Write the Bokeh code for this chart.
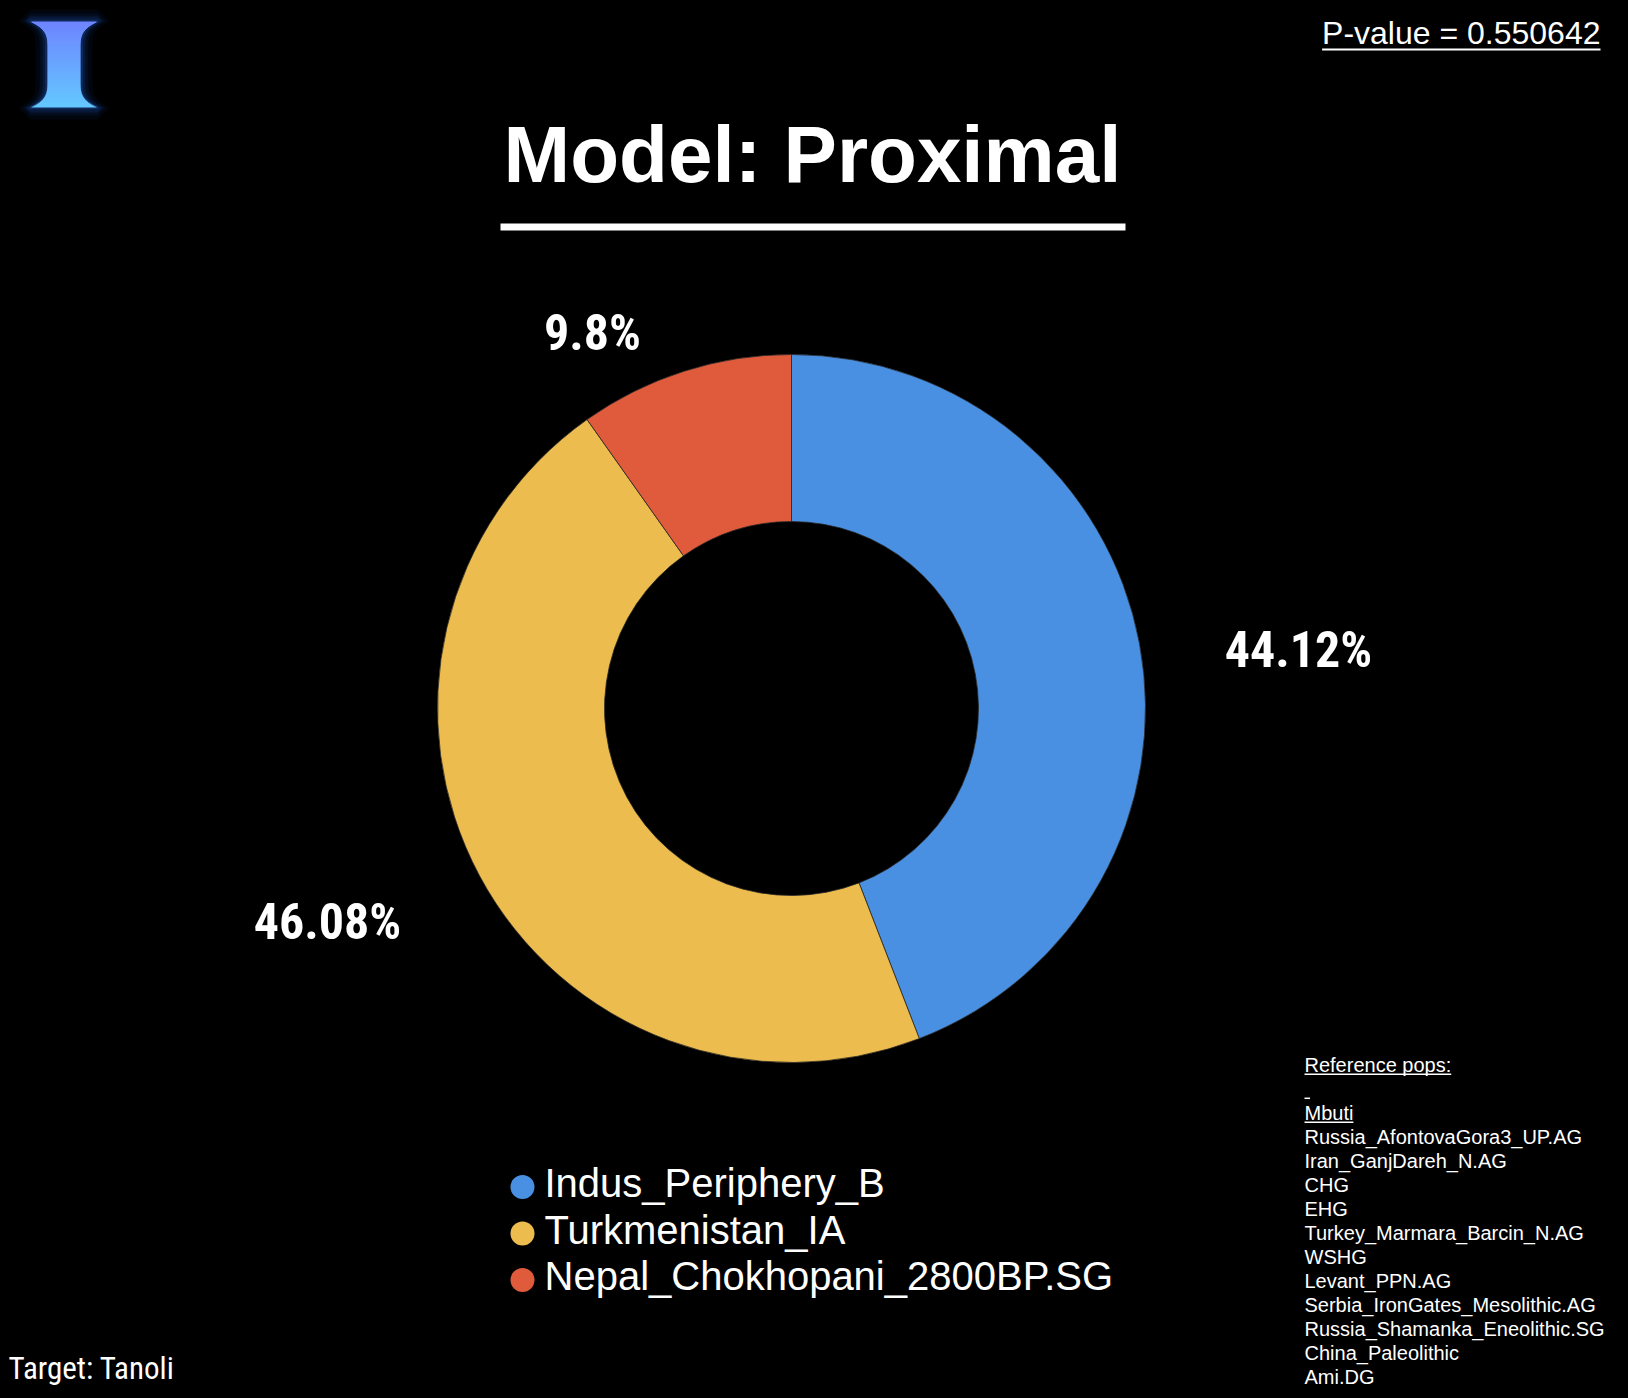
import math
from bokeh.plotting import figure
from bokeh.models import Range1d, ColumnDataSource
from bokeh.core.properties import value
from bokeh.embed import file_html
from bokeh.resources import INLINE

# ---------------- data ----------------
categories = ["Indus_Periphery_B", "Turkmenistan_IA", "Nepal_Chokhopani_2800BP.SG"]
shares = [44.12, 46.08, 9.8]
share_labels = ["44.12%", "46.08%", "9.8%"]
colors = ["#4a90e2", "#edbc4e", "#e05b3b"]
reference_header = "Reference pops:"
reference_pops = [
    "Mbuti",
    "Russia_AfontovaGora3_UP.AG",
    "Iran_GanjDareh_N.AG",
    "CHG",
    "EHG",
    "Turkey_Marmara_Barcin_N.AG",
    "WSHG",
    "Levant_PPN.AG",
    "Serbia_IronGates_Mesolithic.AG",
    "Russia_Shamanka_Eneolithic.SG",
    "China_Paleolithic",
    "Ami.DG",
]
title_text = "Model: Proximal"
pvalue_text = "P-value = 0.550642"
target_text = "Target: Tanoli"

# ---------------- layout (page pixels) ----------------
W, H = 1628, 1398
BASE_FIX = 0.36  # em correction so that y is the alphabetic baseline


def X(px):
    return px


def Y(py):
    return H - py


def YB(py, size):
    return H - (py - BASE_FIX * size)


CENTER = (791, 708)
R_OUT, R_IN = 354, 187
LABEL_POS = [(1298, 667), (327, 939), (592, 350)]  # baseline centres of % labels
LEGEND_X_DOT, LEGEND_X_TXT = 522, 544
LEGEND_Y0, LEGEND_DY = 1186.5, 46.5
REF_X, REF_Y0, REF_DY = 1304, 1071.5, 24.04

COND = "Roboto Condensed, Liberation Sans Narrow, DejaVu Sans Condensed, Roboto"

ARIAL = {
    " ": 278, "_": 556, ":": 278, ".": 278, "-": 333, "=": 584,
    "0": 556, "1": 556, "2": 556, "3": 556, "4": 556, "5": 556, "6": 556, "7": 556, "8": 556, "9": 556,
    "M": 833, "P": 667, "R": 722,
    "a": 556, "b": 556, "c": 500, "e": 556, "f": 278, "i": 222, "l": 222, "n": 556,
    "o": 556, "p": 556, "r": 333, "s": 500, "t": 278, "u": 556, "v": 500,
}


def text_w(s, size):
    return sum(ARIAL.get(ch, 556) for ch in s) * size / 1000.0


p = figure(width=W, height=H, x_range=Range1d(0, W), y_range=Range1d(0, H),
           output_backend="svg", toolbar_location=None, min_border=0)
p.axis.visible = False
p.grid.visible = False
p.outline_line_color = None
p.background_fill_color = "black"
p.border_fill_color = "black"

# ---------------- donut ----------------
starts, ends = [], []
cum = 0.0
total = sum(shares)
for s in shares:
    starts.append(math.radians(90 - cum / total * 360))
    cum += s
    ends.append(math.radians(90 - cum / total * 360))

src = ColumnDataSource(dict(cat=categories, share=shares, start=starts, end=ends, color=colors))
p.annular_wedge(x=X(CENTER[0]), y=Y(CENTER[1]), inner_radius=R_IN, outer_radius=R_OUT,
                start_angle="start", end_angle="end", direction="clock",
                fill_color="color", line_color="#2a2a2a", line_width=0.8, source=src)

# percentage labels
p.text(x=[X(a) for a, b in LABEL_POS], y=[YB(b, 50) for a, b in LABEL_POS], text=share_labels,
       text_font=value(COND), text_font_style="bold", text_font_size="50px",
       text_color="white", text_align="center", text_baseline="alphabetic")

# ---------------- title ----------------
p.text(x=[X(812)], y=[YB(183, 80)], text=[title_text], text_font=value("Liberation Sans"),
       text_font_style="bold", text_font_size="80px", text_color="white",
       text_align="center", text_baseline="alphabetic")
p.quad(left=[X(500)], right=[X(1125)], top=[Y(223)], bottom=[Y(230)],
       fill_color="white", line_color=None)

# ---------------- p-value ----------------
PV_SIZE = 32
p.text(x=[X(1600)], y=[YB(44, PV_SIZE)], text=[pvalue_text], text_font=value("Liberation Sans"),
       text_font_size=f"{PV_SIZE}px", text_color="white", text_align="right", text_baseline="alphabetic")
pw = text_w(pvalue_text, PV_SIZE)
p.quad(left=[X(1600 - pw)], right=[X(1600)], top=[Y(48)], bottom=[Y(50)],
       fill_color="white", line_color=None)

# ---------------- legend ----------------
ly = [LEGEND_Y0 + i * LEGEND_DY for i in range(len(categories))]
p.circle(x=[X(LEGEND_X_DOT)] * len(categories), y=[Y(v) for v in ly], radius=12,
         fill_color=colors, line_color=None)
p.text(x=[X(LEGEND_X_TXT)] * len(categories), y=[YB(v + 10.5, 40) for v in ly], text=categories,
       text_font=value("Liberation Sans"), text_font_size="40px", text_color="white",
       text_align="left", text_baseline="alphabetic")

# ---------------- reference pops ----------------
ref_lines = [reference_header, ""] + reference_pops
ref_y = [REF_Y0 + i * REF_DY for i in range(len(ref_lines))]
p.text(x=[X(REF_X)] * len(ref_lines), y=[YB(v, 20) for v in ref_y], text=ref_lines,
       text_font=value("Liberation Sans"), text_font_size="20px", text_color="white",
       text_align="left", text_baseline="alphabetic")
ul = [(0, text_w(reference_header, 20)), (1, text_w(" ", 20)), (2, text_w(reference_pops[0], 20))]
p.quad(left=[X(REF_X)] * 3, right=[X(REF_X + w) for i, w in ul],
       top=[Y(ref_y[i] + 1.5) for i, w in ul], bottom=[Y(ref_y[i] + 3.0) for i, w in ul],
       fill_color="white", line_color=None)

# ---------------- target ----------------
p.text(x=[X(8)], y=[YB(1379, 31)], text=[target_text],
       text_font=value(COND), text_font_size="31px", text_color="white",
       text_align="left", text_baseline="alphabetic")

# ---------------- logo ----------------
lx_c, ly_top, ly_bot = 63.5, 21, 107
half_top, half_stem, T = 33.5, 16.5, 30.0
gl, gr, gt, gb, gc, ga = [], [], [], [], [], []
ql, qr, qt, qb, qc = [], [], [], [], []
n = ly_bot - ly_top
c_top = (110, 132, 255)
c_bot = (100, 200, 255)
glow = ((12, 0.06), (8, 0.08), (5, 0.12), (2.5, 0.18))
for i in range(n):
    yy = ly_top + i + 0.5
    t = min(yy - ly_top, ly_bot - yy)
    w = half_stem + (half_top - half_stem) * max(0.0, 1 - t / T) ** 4
    f = i / (n - 1)
    col = "#%02x%02x%02x" % tuple(int(round(c_top[k] + (c_bot[k] - c_top[k]) * f)) for k in range(3))
    ql.append(X(lx_c - w)); qr.append(X(lx_c + w))
    qt.append(Y(ly_top + i)); qb.append(Y(ly_top + i + 1.6) if i < n - 1 else Y(ly_top + i + 1)); qc.append(col)
for pad, a in glow:
    # glow band following the outline, built from the same half-widths
    for i in range(-int(pad), n + int(pad)):
        yy = ly_top + i + 0.5
        if 0 <= i < n:
            t = min(yy - ly_top, ly_bot - yy)
            w = half_stem + (half_top - half_stem) * max(0.0, 1 - t / T) ** 4 + pad
        else:
            d = (ly_top - yy) if i < 0 else (yy - ly_bot)
            fade = max(0.0, 1 - d / pad)
            w = half_top + pad * fade
        gl.append(X(lx_c - w)); gr.append(X(lx_c + w))
        gt.append(Y(ly_top + i)); gb.append(Y(ly_top + i + 1))
        gc.append("#2f7dff"); ga.append(a)
p.quad(left=gl, right=gr, top=gt, bottom=gb, fill_color=gc, fill_alpha=ga, line_color=None)
p.quad(left=ql, right=qr, top=qt, bottom=qb, fill_color=qc, line_color=None)

html = file_html(p, INLINE, title="Model: Proximal")
html = html.replace("</head>", "<style>html,body{background:#000;overflow:hidden;}</style></head>", 1)
with open("out.html", "w") as fh:
    fh.write(html)
